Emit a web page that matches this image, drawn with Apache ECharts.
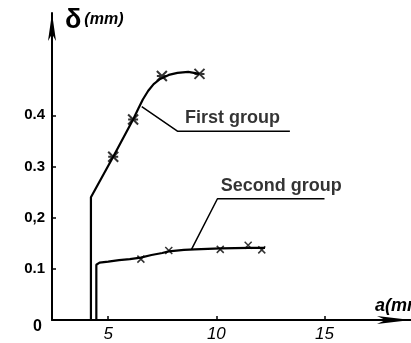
<!DOCTYPE html>
<html><head><meta charset="utf-8">
<script src="https://cdn.jsdelivr.net/npm/echarts@6/dist/echarts.min.js"></script>
<style>html,body{margin:0;padding:0;background:#fff}#c{width:411px;height:343px}</style>
</head><body><div id="c"></div>
<script>
// ---- data ----
var xTickValues = [5, 10, 15];
var yTickValues = [0.1, 0.2, 0.3, 0.4];
var yLabelValues = [0, 0.1, 0.2, 0.3, 0.4];
var yLabelText = {"0": "{z|0}", "0.1": "0.1", "0.2": "0,2", "0.3": "0.3", "0.4": "0.4"};

var firstCurve = [[4.2,0],[4.2,0.24],[5.23,0.319],[6.15,0.392],[6.4,0.414],[6.6,0.431],[6.85,0.448],[7.1,0.461],[7.4,0.471],[7.8,0.479],[8.2,0.483],[8.7,0.485],[9.22,0.481]];
var firstMarks = [[5.23,0.319],[6.15,0.392],[7.48,0.477],[9.22,0.481]];
var secondCurve = [[4.45,0],[4.45,0.108],[4.6,0.112],[5.0,0.114],[5.5,0.117],[6.0,0.119],[6.5,0.122],[7.0,0.127],[7.5,0.131],[7.8,0.134],[8.5,0.137],[9.0,0.138],[10.2,0.140],[11.5,0.141],[12.25,0.141]];
var secondMarks = [[6.51,0.119],[7.8,0.136],[10.18,0.138],[11.47,0.146],[12.1,0.137]];

var firstLeader = [[6.55,0.417],[8.2,0.369],[13.4,0.369]];
var secondLeader = [[8.85,0.138],[10.05,0.237],[15.0,0.237]];
var annotations = [
  {name: "First group", value: [8.55, 0.395]},
  {name: "Second group", value: [10.2, 0.262]}
];

var chart = echarts.init(document.getElementById('c'));
var hand = "'Liberation Sans', sans-serif";
var star = 'path://M0,0L10,10M10,0L0,10M0,5L10,5';
var cross = 'path://M0,0L10,10M10,0L0,10';

chart.setOption({
  animation: false,
  title: [
    {left: 60, top: 2, text: '{d|δ}{m|(mm)}',
     textStyle: {rich: {
       d: {fontSize: 27, fontFamily: hand, color: '#000'},
       m: {fontSize: 16, fontFamily: hand, fontStyle: 'italic', fontWeight: 'bold', color: '#000', padding: [0,0,2,3]}
     }}},
    {left: 370, top: 292, text: 'a(mm)',
     textStyle: {fontSize: 18, fontFamily: hand, fontStyle: 'italic', fontWeight: 'bold', color: '#000'}}
  ],
  grid: {left: 52, right: 0, top: 13, bottom: 18, containLabel: false},
  xAxis: {
    type: 'value', min: 2.4, max: 19,
    axisLine: {show: true, onZero: false, symbol: ['none', 'arrow'], symbolSize: [6, 34], lineStyle: {color: '#000', width: 2}},
    axisTick: {show: true, inside: true, length: 4, customValues: xTickValues, lineStyle: {color: '#000', width: 1.5}},
    axisLabel: {customValues: xTickValues, margin: 6, fontSize: 17, fontFamily: hand, fontStyle: 'italic', color: '#000'},
    splitLine: {show: false}
  },
  yAxis: {
    type: 'value', min: 0, max: 0.6,
    axisLine: {show: true, onZero: false, symbol: ['none', 'arrow'], symbolSize: [6, 28], lineStyle: {color: '#000', width: 2}},
    axisTick: {show: true, inside: true, length: 4, customValues: yTickValues, lineStyle: {color: '#000', width: 1.5}},
    axisLabel: {customValues: yLabelValues, margin: 7, fontSize: 15, fontFamily: hand, fontWeight: 'bold', color: '#000',
      rich: {z: {fontSize: 16, fontFamily: hand, fontWeight: 'bold', color: '#000', padding: [14, 3, 0, 0]}},
      formatter: function (v) { return yLabelText[String(+v.toFixed(2))]; }},
    splitLine: {show: false}
  },
  series: [
    {name: 'First group', type: 'line', data: firstCurve, smooth: false, symbol: 'none', lineStyle: {color: '#000', width: 2.2}},
    {name: 'Second group', type: 'line', data: secondCurve, smooth: false, symbol: 'none', lineStyle: {color: '#000', width: 2.2}},
    {type: 'scatter', data: firstMarks, symbol: star, symbolSize: 10, itemStyle: {color: '#000', borderColor: '#000', borderWidth: 2}},
    {type: 'scatter', data: secondMarks, symbol: cross, symbolSize: 7, itemStyle: {color: '#000', borderColor: '#000', borderWidth: 1.5}},
    {type: 'line', data: firstLeader, symbol: 'none', lineStyle: {color: '#000', width: 1.5}},
    {type: 'line', data: secondLeader, symbol: 'none', lineStyle: {color: '#000', width: 1.5}},
    {type: 'scatter', data: annotations, symbolSize: 0,
     label: {show: true, position: 'right', distance: 0, formatter: '{b}', fontSize: 18, fontFamily: hand, fontWeight: 'bold', color: '#000'}}
  ]
});
</script></body></html>
